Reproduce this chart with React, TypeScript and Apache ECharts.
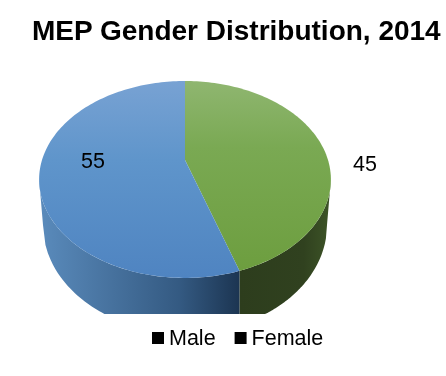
import React, { useEffect, useRef } from "react";
import * as echarts from "echarts";

const categories = ["Female", "Male"];
const legendOrder = ["Male", "Female"];
const values = [45, 55];
const title = "MEP Gender Distribution, 2014";

const CX = 185, CY = 160, SX = 143, SY = 94.6, P = 0.198;
const BOTTOM = { cy: 225, rx: 142, ry: 108, clip: 314 };

// perspective projection of a point on the pie's rim; angle runs clockwise from the top
function rim(a: number) {
  const u = Math.sin(a), v = -Math.cos(a), w = 1 - P * v;
  return [CX + (SX * u) / w, CY + (SY * v) / w];
}
function arcPoints(a0: number, a1: number) {
  const n = Math.max(2, Math.ceil(Math.abs(a1 - a0) * 40));
  const pts: number[][] = [];
  for (let i = 0; i <= n; i++) pts.push(rim(a0 + ((a1 - a0) * i) / n));
  return pts;
}
function bottomPoints(x0: number, x1: number) {
  const pts: number[][] = [];
  const n = 80;
  for (let i = 0; i <= n; i++) {
    const x = x0 + ((x1 - x0) * i) / n;
    const d = (x - CX) / BOTTOM.rx;
    const y = BOTTOM.cy + BOTTOM.ry * Math.sqrt(Math.max(0, 1 - d * d));
    pts.push([x, Math.min(BOTTOM.clip, y)]);
  }
  return pts;
}
const WIDE = Math.acos(-P);
function sidePolygon(a0: number, a1: number) {
  const s = Math.max(a0, WIDE), e = Math.min(a1, 2 * Math.PI - WIDE);
  const top = arcPoints(s, e);
  const x0 = a0 <= WIDE ? CX + BOTTOM.rx : top[0][0];
  const x1 = a1 >= 2 * Math.PI - WIDE ? CX - BOTTOM.rx : top[top.length - 1][0];
  return [...top, ...bottomPoints(x1, x0)];
}

const lin = (x0: number, y0: number, x1: number, y1: number, c: [number, string][]) =>
  new echarts.graphic.LinearGradient(x0, y0, x1, y1, c.map(([offset, color]) => ({ offset, color })));

const topFill = [
  lin(0, 0, 0, 1, [[0, "#8fb670"], [0.35, "#7aa953"], [1, "#6d9e3f"]]),
  lin(0, 0, 0, 1, [[0, "#78a2d3"], [0.4, "#5f95cb"], [1, "#4f84c1"]]),
];
const sideFill = [
  lin(0, 0, 1, 0, [[0, "#2d3d1d"], [0.7, "#30411f"], [1, "#3d5427"]]),
  lin(0, 0, 1, 0, [[0, "#5a8bbc"], [0.3, "#4a76a3"], [0.7, "#345a82"], [1, "#1c3552"]]),
];
const labelPos = [[365, 164], [93, 161]];

export default function App() {
  const ref = useRef<HTMLDivElement>(null);
  useEffect(() => {
    const chart = echarts.init(ref.current!, undefined, { renderer: "svg" });
    const total = values.reduce((a, b) => a + b, 0);
    chart.setOption({
      animation: false,
      title: {
        text: title,
        left: 32,
        top: 16,
        padding: 0,
        textStyle: { fontFamily: "Liberation Sans", fontSize: 28, fontWeight: "bold", color: "#000" },
      },
      legend: {
        data: legendOrder,
        left: 152,
        top: 327,
        padding: 0,
        itemWidth: 12,
        itemHeight: 12,
        itemGap: 19,
        icon: "rect",
        textStyle: { fontFamily: "Liberation Sans", fontSize: 21.5, color: "#000" },
        itemStyle: { color: "#000" },
      },
      xAxis: { show: false, min: 0, max: 1 },
      yAxis: { show: false, min: 0, max: 1 },
      grid: { left: 0, right: 0, top: 0, bottom: 0 },
      series: [
        ...categories.map((name) => ({
          type: "line",
          name,
          data: [],
          itemStyle: { color: "#000" },
        })),
        {
          type: "custom",
          coordinateSystem: "none",
          silent: true,
          data: values.map((v, i) => [i, v]),
          renderItem: (params: any, api: any) => {
            const i = api.value(0);
            let before = 0;
            for (let k = 0; k < i; k++) before += values[k];
            const a0 = (before / total) * Math.PI * 2;
            const a1 = ((before + api.value(1)) / total) * Math.PI * 2;
            return {
              type: "group",
              children: [
                { type: "polygon", shape: { points: sidePolygon(a0, a1) }, style: { fill: sideFill[i] } },
                { type: "polygon", shape: { points: [[CX, CY], ...arcPoints(a0, a1)] }, style: { fill: topFill[i] } },
                {
                  type: "text",
                  style: {
                    text: String(api.value(1)),
                    x: labelPos[i][0],
                    y: labelPos[i][1],
                    align: "center",
                    verticalAlign: "middle",
                    fontFamily: "Liberation Sans",
                    fontSize: 21.5,
                    fill: "#000",
                  },
                },
              ],
            };
          },
        },
      ],
    });
    return () => chart.dispose();
  }, []);
  return <div ref={ref} style={{ width: 446, height: 376, position: "fixed", left: 0, top: 0 }} />;
}
